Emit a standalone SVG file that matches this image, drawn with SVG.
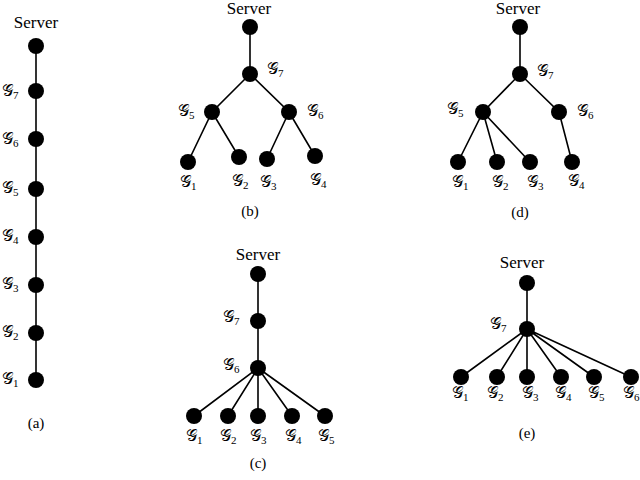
<svg xmlns="http://www.w3.org/2000/svg" width="640" height="480" viewBox="0 0 640 480">
<style>
.n{fill:#000}
.e{stroke:#000;stroke-width:1.6;fill:none}
.t{font-family:'Liberation Serif','Times New Roman',Times,'DejaVu Serif',serif;font-size:17px;fill:#000;text-anchor:middle}
.c{font-family:'Liberation Serif','Times New Roman',Times,'DejaVu Serif',serif;font-size:15px;fill:#000;text-anchor:middle}
.g{font-family:'DejaVu Serif','Liberation Serif',serif;font-size:16px;fill:#000}
.s{font-family:'Liberation Serif','Times New Roman',serif;font-size:11px}
</style>
<rect width="640" height="480" fill="#fff"/>
<g id="connectors">
<path class="e" d="M36 46V380"/>
<path class="e" d="M250 27V74L212 112L188 162M212 112L239 157M250 74L289 112L267 159M289 112L315 156"/>
<path class="e" d="M520 27V74L483 112L458 162M483 112L497 162M483 112L530 162M520 74L559 112L572 162"/>
<path class="e" d="M258 274V368L194 416M258 368L228 416M258 368L258 416M258 368L292 416M258 368L325 416"/>
<path class="e" d="M527 283V329L461 377M527 329L497 377M527 329L527 377M527 329L561 377M527 329L594 377M527 329L631 377"/>
</g>
<g id="a">
<text class="t" x="36" y="28">Server</text>
<circle class="n" cx="36" cy="46" r="8"/><circle class="n" cx="36" cy="91" r="8"/><circle class="n" cx="36" cy="139" r="8"/><circle class="n" cx="36" cy="189" r="8"/><circle class="n" cx="36" cy="237" r="8"/><circle class="n" cx="36" cy="285" r="8"/><circle class="n" cx="36" cy="333" r="8"/><circle class="n" cx="36" cy="380" r="8"/>
<text class="g" x="2" y="96">𝒢<tspan class="s" dy="3">7</tspan></text>
<text class="g" x="2" y="144">𝒢<tspan class="s" dy="3">6</tspan></text>
<text class="g" x="2" y="193">𝒢<tspan class="s" dy="3">5</tspan></text>
<text class="g" x="2" y="241">𝒢<tspan class="s" dy="3">4</tspan></text>
<text class="g" x="2" y="289">𝒢<tspan class="s" dy="3">3</tspan></text>
<text class="g" x="2" y="337">𝒢<tspan class="s" dy="3">2</tspan></text>
<text class="g" x="2" y="384">𝒢<tspan class="s" dy="3">1</tspan></text>
<text class="c" x="36" y="428">(a)</text>
</g>
<g id="b">
<text class="t" x="249" y="14">Server</text>
<circle class="n" cx="250" cy="27" r="8"/><circle class="n" cx="250" cy="74" r="8"/><circle class="n" cx="212" cy="112" r="8"/><circle class="n" cx="289" cy="112" r="8"/><circle class="n" cx="188" cy="162" r="8"/><circle class="n" cx="239" cy="157" r="8"/><circle class="n" cx="267" cy="159" r="8"/><circle class="n" cx="315" cy="156" r="8"/>
<text class="g" x="267" y="74">𝒢<tspan class="s" dy="3">7</tspan></text>
<text class="g" x="178" y="116">𝒢<tspan class="s" dy="3">5</tspan></text>
<text class="g" x="307" y="116">𝒢<tspan class="s" dy="3">6</tspan></text>
<text class="g" x="180" y="187">𝒢<tspan class="s" dy="3">1</tspan></text>
<text class="g" x="232" y="186">𝒢<tspan class="s" dy="3">2</tspan></text>
<text class="g" x="260" y="187">𝒢<tspan class="s" dy="3">3</tspan></text>
<text class="g" x="310" y="185">𝒢<tspan class="s" dy="3">4</tspan></text>
<text class="c" x="250" y="216">(b)</text>
</g>
<g id="d">
<text class="t" x="518" y="14">Server</text>
<circle class="n" cx="520" cy="27" r="8"/><circle class="n" cx="520" cy="74" r="8"/><circle class="n" cx="483" cy="112" r="8"/><circle class="n" cx="559" cy="112" r="8"/><circle class="n" cx="458" cy="162" r="8"/><circle class="n" cx="497" cy="162" r="8"/><circle class="n" cx="530" cy="162" r="8"/><circle class="n" cx="572" cy="162" r="8"/>
<text class="g" x="537" y="76">𝒢<tspan class="s" dy="3">7</tspan></text>
<text class="g" x="447" y="114">𝒢<tspan class="s" dy="3">5</tspan></text>
<text class="g" x="577" y="116">𝒢<tspan class="s" dy="3">6</tspan></text>
<text class="g" x="452" y="187">𝒢<tspan class="s" dy="3">1</tspan></text>
<text class="g" x="492" y="187">𝒢<tspan class="s" dy="3">2</tspan></text>
<text class="g" x="527" y="187">𝒢<tspan class="s" dy="3">3</tspan></text>
<text class="g" x="568" y="186">𝒢<tspan class="s" dy="3">4</tspan></text>
<text class="c" x="520" y="217">(d)</text>
</g>
<g id="c">
<text class="t" x="258" y="260">Server</text>
<circle class="n" cx="258" cy="274" r="8"/><circle class="n" cx="258" cy="321" r="8"/><circle class="n" cx="258" cy="368" r="8"/><circle class="n" cx="194" cy="416" r="8"/><circle class="n" cx="228" cy="416" r="8"/><circle class="n" cx="258" cy="416" r="8"/><circle class="n" cx="292" cy="416" r="8"/><circle class="n" cx="325" cy="416" r="8"/>
<text class="g" x="223" y="322">𝒢<tspan class="s" dy="3">7</tspan></text>
<text class="g" x="223" y="370">𝒢<tspan class="s" dy="3">6</tspan></text>
<text class="g" x="186" y="441">𝒢<tspan class="s" dy="3">1</tspan></text>
<text class="g" x="220" y="441">𝒢<tspan class="s" dy="3">2</tspan></text>
<text class="g" x="250" y="441">𝒢<tspan class="s" dy="3">3</tspan></text>
<text class="g" x="285" y="441">𝒢<tspan class="s" dy="3">4</tspan></text>
<text class="g" x="318" y="441">𝒢<tspan class="s" dy="3">5</tspan></text>
<text class="c" x="258" y="468">(c)</text>
</g>
<g id="e">
<text class="t" x="522" y="268">Server</text>
<circle class="n" cx="527" cy="283" r="8"/><circle class="n" cx="527" cy="329" r="8"/><circle class="n" cx="461" cy="377" r="8"/><circle class="n" cx="497" cy="377" r="8"/><circle class="n" cx="527" cy="377" r="8"/><circle class="n" cx="561" cy="377" r="8"/><circle class="n" cx="594" cy="377" r="8"/><circle class="n" cx="631" cy="377" r="8"/>
<text class="g" x="490" y="329">𝒢<tspan class="s" dy="3">7</tspan></text>
<text class="g" x="452" y="398">𝒢<tspan class="s" dy="3">1</tspan></text>
<text class="g" x="487" y="398">𝒢<tspan class="s" dy="3">2</tspan></text>
<text class="g" x="522" y="398">𝒢<tspan class="s" dy="3">3</tspan></text>
<text class="g" x="555" y="398">𝒢<tspan class="s" dy="3">4</tspan></text>
<text class="g" x="588" y="398">𝒢<tspan class="s" dy="3">5</tspan></text>
<text class="g" x="623" y="398">𝒢<tspan class="s" dy="3">6</tspan></text>
<text class="c" x="527" y="438">(e)</text>
</g>
</svg>
